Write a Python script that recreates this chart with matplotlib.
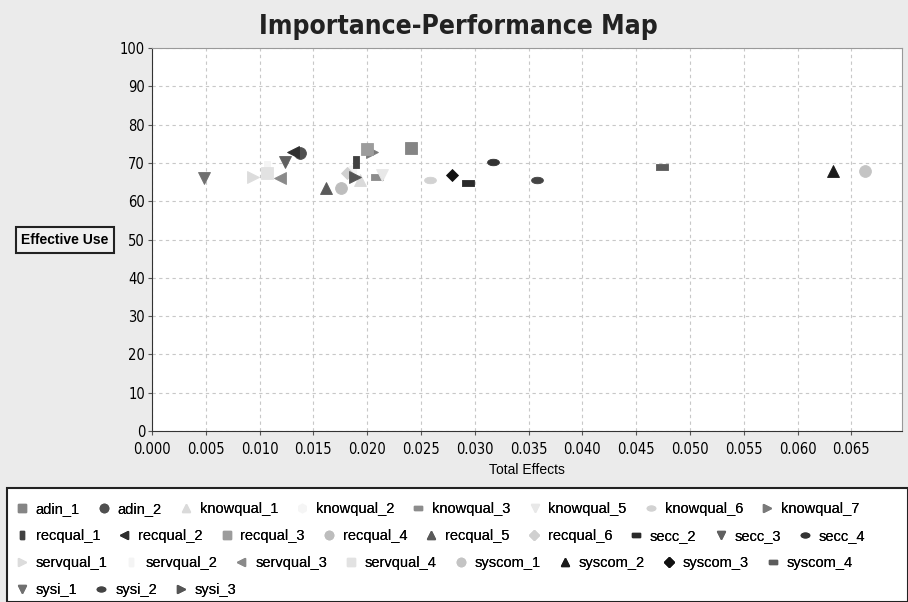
import matplotlib
matplotlib.use('Agg')
import matplotlib.pyplot as plt
import numpy as np
from matplotlib.path import Path
from matplotlib.patches import Rectangle
from matplotlib.lines import Line2D

# constructs, total effects (x) and performance (y)
names = ['adin_1', 'adin_2', 'knowqual_1', 'knowqual_2', 'knowqual_3', 'knowqual_5', 'knowqual_6', 'knowqual_7',
         'recqual_1', 'recqual_2', 'recqual_3', 'recqual_4', 'recqual_5', 'recqual_6', 'secc_2', 'secc_3', 'secc_4',
         'servqual_1', 'servqual_2', 'servqual_3', 'servqual_4', 'syscom_1', 'syscom_2', 'syscom_3', 'syscom_4',
         'sysi_1', 'sysi_2', 'sysi_3']
total_effects = [0.0241, 0.0138, 0.0193, 0.0185, 0.0209, 0.0214, 0.0258, 0.0204,
                 0.0190, 0.0131, 0.0200, 0.0176, 0.0162, 0.0181, 0.0294, 0.0124, 0.0317,
                 0.0094, 0.0107, 0.0119, 0.0107, 0.0663, 0.0633, 0.0279, 0.0474,
                 0.0048, 0.0358, 0.0189]
performance = [74.0, 72.7, 65.6, 67.8, 66.4, 66.9, 65.6, 72.9,
               70.3, 72.9, 73.7, 63.5, 63.5, 67.4, 64.8, 70.3, 70.3,
               66.4, 69.0, 66.1, 67.4, 68.0, 68.0, 66.9, 69.0,
               66.1, 65.6, 66.4]
legend_rows = [8, 9, 8, 3]

# marker shapes
ellipse = Path(np.column_stack([np.cos(np.linspace(0, 2 * np.pi, 40)),
                                0.55 * np.sin(np.linspace(0, 2 * np.pi, 40))]))
hrect = [(-1, -0.45), (1, -0.45), (1, 0.45), (-1, 0.45), (-1, -0.45)]
vrect = [(-0.45, -1), (0.45, -1), (0.45, 1), (-0.45, 1), (-0.45, -1)]

styles = {
    'adin_1': ('s', '#858585'), 'adin_2': ('o', '#505050'), 'knowqual_1': ('^', '#dadada'),
    'knowqual_2': ('h', '#f5f5f5'), 'knowqual_3': (hrect, '#8c8c8c'), 'knowqual_5': ('v', '#e8e8e8'),
    'knowqual_6': (ellipse, '#d2d2d2'), 'knowqual_7': ('>', '#7a7a7a'),
    'recqual_1': (vrect, '#404040'), 'recqual_2': ('<', '#2e2e2e'), 'recqual_3': ('s', '#9c9c9c'),
    'recqual_4': ('o', '#bdbdbd'), 'recqual_5': ('^', '#5a5a5a'), 'recqual_6': ('D', '#d0d0d0'),
    'secc_2': (hrect, '#2a2a2a'), 'secc_3': ('v', '#606060'), 'secc_4': (ellipse, '#333333'),
    'servqual_1': ('>', '#dcdcdc'), 'servqual_2': (vrect, '#f4f4f4'), 'servqual_3': ('<', '#8a8a8a'),
    'servqual_4': ('s', '#e2e2e2'), 'syscom_1': ('o', '#c4c4c4'), 'syscom_2': ('^', '#1a1a1a'),
    'syscom_3': ('D', '#111111'), 'syscom_4': (hrect, '#5c5c5c'),
    'sysi_1': ('v', '#707070'), 'sysi_2': (ellipse, '#444444'), 'sysi_3': ('>', '#555555'),
}

fig = plt.figure(figsize=(9.08, 6.02), dpi=100, facecolor='#ebebeb')
ax = fig.add_axes([152 / 908, 1 - 431 / 602, 750 / 908, 383 / 602])
ax.set_facecolor('white')

handles = []
for n, x, y in zip(names, total_effects, performance):
    m, c = styles[n]
    size = 6.5 if m == 'D' else 8.5
    ax.plot(x, y, linestyle='none', marker=m, markersize=size, color=c,
            markeredgecolor=c, markeredgewidth=0.6, zorder=3)
    lsize = 5 if m == 'D' else 6
    handles.append(Line2D([], [], linestyle='none', marker=m, markersize=lsize, color=c,
                          markeredgecolor=c, label=n))

ax.set_xlim(0, 0.0697)
ax.set_ylim(0, 100)
ax.set_xticks(np.arange(0, 0.0651, 0.005))
ax.set_xticklabels(['%.3f' % v for v in np.arange(0, 0.0651, 0.005)])
ax.set_yticks(np.arange(0, 101, 10))
ax.grid(True, linestyle=(0, (3, 3)), color='#c8c8c8', linewidth=0.8)
ax.tick_params(labelsize=10.5, length=3, color='#555555')
ax.tick_params(axis='x', pad=5)
ax.tick_params(axis='y', pad=2)
for t in ax.get_xticklabels() + ax.get_yticklabels():
    t.set_fontstretch('condensed')
for s in ['left', 'bottom']:
    ax.spines[s].set_color('#333333')
for s in ['top', 'right']:
    ax.spines[s].set_color('#999999')

ax.set_xlabel('Total Effects', fontsize=10, family='Liberation Sans', labelpad=4)
fig.text(0.505, 1 - 27 / 602, 'Importance-Performance Map', ha='center', va='center',
         fontsize=19, fontweight='bold', fontstretch='condensed', color='#222222')
fig.text(65 / 908, 1 - 240 / 602, 'Effective Use', ha='center', va='center', fontsize=10,
         fontweight='bold', family='Liberation Sans',
         bbox=dict(boxstyle='square,pad=0.4', facecolor='#f0f0f0', edgecolor='#222222', linewidth=1.5))

# legend panel
fig.patches.append(Rectangle((7 / 908, 0), 1 - 7 / 908, 114 / 602, transform=fig.transFigure,
                             facecolor='white', edgecolor='#222222', linewidth=1.5))
start = 0
row_y = [509, 536, 563, 590]
for k, cnt in enumerate(legend_rows):
    leg = fig.legend(handles=handles[start:start + cnt], ncol=cnt, loc='center left',
                     bbox_to_anchor=(10 / 908, 1 - row_y[k] / 602), frameon=False,
                     handlelength=0.6, handletextpad=0.65, columnspacing=1.35, borderpad=0,
                     prop={'family': 'Liberation Sans', 'size': 10.5})
    fig.add_artist(leg)
    start += cnt

fig.savefig('out.png', dpi=100, facecolor=fig.get_facecolor())
